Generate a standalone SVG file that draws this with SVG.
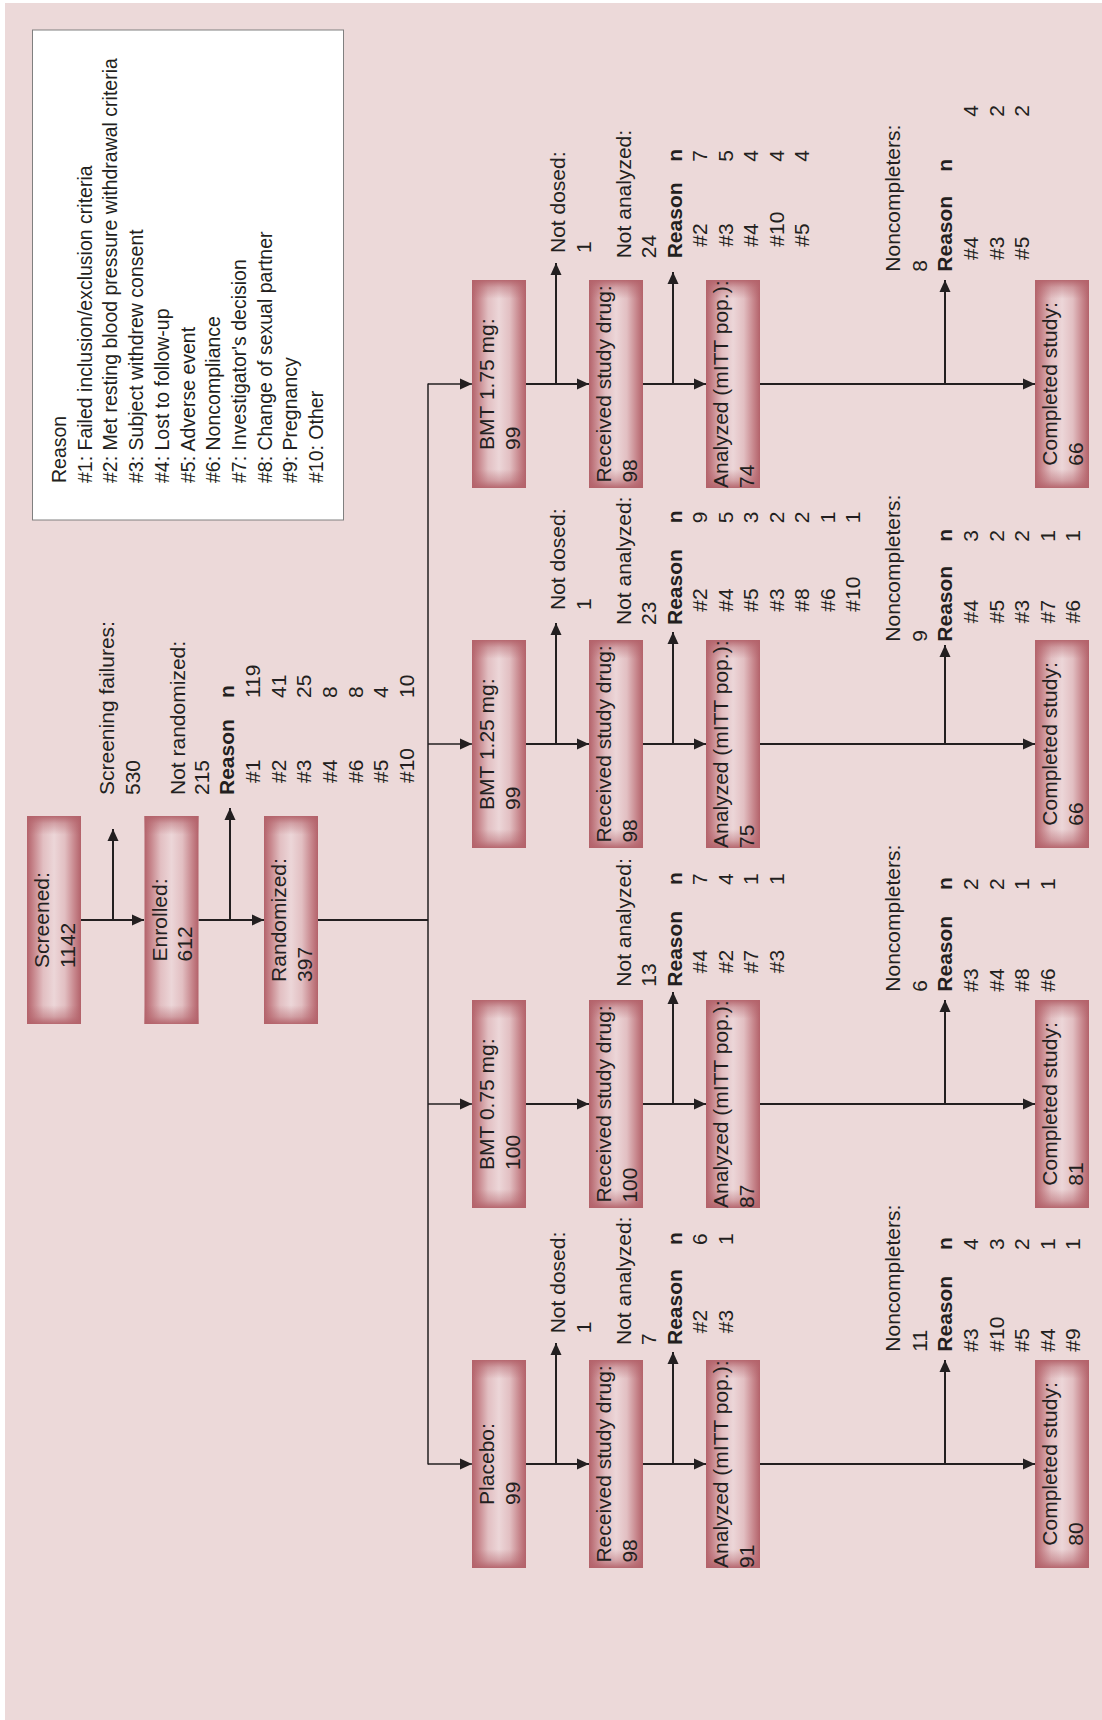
<svg xmlns="http://www.w3.org/2000/svg" width="1102" height="1720" viewBox="0 0 1102 1720">
<defs>
<style>
.t{font-family:"Liberation Sans",Arial,Helvetica,sans-serif;font-size:21px;fill:#231f20}
.b{font-weight:bold}
.lg{font-size:19.5px}
.ln{stroke:#231f20;stroke-width:2;fill:none}
.tr{stroke:#231f20;stroke-width:1.5;fill:none}
.bx{fill:url(#gh)}
.bo{fill:url(#gv)}
</style>
<linearGradient id="gh" x1="0" y1="0" x2="1" y2="0">
<stop offset="0" stop-color="#b3626a"/>
<stop offset="0.12" stop-color="#c7868c"/>
<stop offset="0.3" stop-color="#e2bfc2"/>
<stop offset="0.5" stop-color="#ecd6d8"/>
<stop offset="0.7" stop-color="#e2bfc2"/>
<stop offset="0.88" stop-color="#c7868c"/>
<stop offset="1" stop-color="#b3626a"/>
</linearGradient>
<linearGradient id="gv" x1="0" y1="0" x2="0" y2="1">
<stop offset="0" stop-color="#b3626a" stop-opacity="0.95"/>
<stop offset="0.035" stop-color="#b3626a" stop-opacity="0.45"/>
<stop offset="0.09" stop-color="#b3626a" stop-opacity="0"/>
<stop offset="0.91" stop-color="#b3626a" stop-opacity="0"/>
<stop offset="0.965" stop-color="#b3626a" stop-opacity="0.45"/>
<stop offset="1" stop-color="#b3626a" stop-opacity="0.95"/>
</linearGradient>
<marker id="ah" markerUnits="userSpaceOnUse" markerWidth="12" markerHeight="12" refX="12" refY="6" orient="auto" viewBox="0 0 12 12">
<path d="M0,0.5 L12,6 L0,11.5 z" fill="#231f20"/>
</marker>
</defs>

<rect x="0" y="0" width="1102" height="1720" fill="#ffffff"/>
<rect x="5" y="3" width="1097" height="1717" fill="#ecd9d9"/>

<g id="legend">
<rect x="32.5" y="30" width="311" height="490" fill="#ffffff" stroke="#808080" stroke-width="1"/>
<g class="t lg" transform="rotate(-90)">
<text x="-483" y="66">Reason</text>
<text x="-483" y="91.7">#1: Failed inclusion/exclusion criteria</text>
<text x="-483" y="117.4">#2: Met resting blood pressure withdrawal criteria</text>
<text x="-483" y="143.1">#3: Subject withdrew consent</text>
<text x="-483" y="168.8">#4: Lost to follow-up</text>
<text x="-483" y="194.5">#5: Adverse event</text>
<text x="-483" y="220.2">#6: Noncompliance</text>
<text x="-483" y="245.9">#7: Investigator's decision</text>
<text x="-483" y="271.6">#8: Change of sexual partner</text>
<text x="-483" y="297.3">#9: Pregnancy</text>
<text x="-483" y="323">#10: Other</text>
</g>
</g>

<g id="connectors">
<path class="ln" d="M81,920 H144" marker-end="url(#ah)"/>
<path class="ln" d="M113,920 V829" marker-end="url(#ah)"/>
<path class="ln" d="M198.5,920 H264" marker-end="url(#ah)"/>
<path class="ln" d="M230,920 V808" marker-end="url(#ah)"/>
<path class="ln" d="M318,920 H428"/>
<path class="tr" d="M428,383.5 V1464.5"/>
<path class="tr" d="M428,384 H472" marker-end="url(#ah)"/>
<path class="tr" d="M428,744 H472" marker-end="url(#ah)"/>
<path class="tr" d="M428,1104 H472" marker-end="url(#ah)"/>
<path class="tr" d="M428,1464 H472" marker-end="url(#ah)"/>
<!-- row 1 -->
<path class="ln" d="M526,384 H589" marker-end="url(#ah)"/>
<path class="ln" d="M556,384 V263" marker-end="url(#ah)"/>
<path class="ln" d="M643,384 H706" marker-end="url(#ah)"/>
<path class="ln" d="M673,384 V272" marker-end="url(#ah)"/>
<path class="ln" d="M760,384 H1035" marker-end="url(#ah)"/>
<path class="ln" d="M945,384 V280" marker-end="url(#ah)"/>
<!-- row 2 -->
<path class="ln" d="M526,744 H589" marker-end="url(#ah)"/>
<path class="ln" d="M556,744 V623" marker-end="url(#ah)"/>
<path class="ln" d="M643,744 H706" marker-end="url(#ah)"/>
<path class="ln" d="M673,744 V632" marker-end="url(#ah)"/>
<path class="ln" d="M760,744 H1035" marker-end="url(#ah)"/>
<path class="ln" d="M945,744 V645" marker-end="url(#ah)"/>
<!-- row 3 -->
<path class="ln" d="M526,1104 H589" marker-end="url(#ah)"/>
<path class="ln" d="M643,1104 H706" marker-end="url(#ah)"/>
<path class="ln" d="M673,1104 V992" marker-end="url(#ah)"/>
<path class="ln" d="M760,1104 H1035" marker-end="url(#ah)"/>
<path class="ln" d="M945,1104 V1000" marker-end="url(#ah)"/>
<!-- row 4 -->
<path class="ln" d="M526,1464 H589" marker-end="url(#ah)"/>
<path class="ln" d="M556,1464 V1343" marker-end="url(#ah)"/>
<path class="ln" d="M643,1464 H706" marker-end="url(#ah)"/>
<path class="ln" d="M673,1464 V1352" marker-end="url(#ah)"/>
<path class="ln" d="M760,1464 H1035" marker-end="url(#ah)"/>
<path class="ln" d="M945,1464 V1360" marker-end="url(#ah)"/>
</g>

<g id="screened">
<rect class="bx" x="27" y="816" width="54" height="208"/><rect class="bo" x="27" y="816" width="54" height="208"/>
<g class="t" transform="rotate(-90)"><text x="-967.9" y="49">Screened:</text><text x="-967.9" y="74.5">1142</text></g>
</g>
<g id="enrolled">
<rect class="bx" x="144.5" y="816" width="54" height="208"/><rect class="bo" x="144.5" y="816" width="54" height="208"/>
<g class="t" transform="rotate(-90)"><text x="-961.4" y="166.5">Enrolled:</text><text x="-961.4" y="192">612</text></g>
</g>
<g id="randomized">
<rect class="bx" x="264" y="816" width="54" height="208"/><rect class="bo" x="264" y="816" width="54" height="208"/>
<g class="t" transform="rotate(-90)"><text x="-981.9" y="286">Randomized:</text><text x="-981.9" y="311.5">397</text></g>
</g>

<g id="screening-failures" class="t" transform="rotate(-90)">
<text x="-795" y="114">Screening failures:</text>
<text x="-795" y="140">530</text>
</g>
<g id="not-randomized" class="t" transform="rotate(-90)">
<text x="-795" y="185">Not randomized:</text>
<text x="-795" y="209">215</text>
<text class="b" x="-795" y="234">Reason</text><text class="b" x="-698" y="234">n</text>
<text x="-783" y="260">#1</text><text x="-698" y="260">119</text>
<text x="-783" y="285.5">#2</text><text x="-698" y="285.5">41</text>
<text x="-783" y="311">#3</text><text x="-698" y="311">25</text>
<text x="-783" y="337">#4</text><text x="-698" y="337">8</text>
<text x="-783" y="362.5">#6</text><text x="-698" y="362.5">8</text>
<text x="-783" y="388">#5</text><text x="-698" y="388">4</text>
<text x="-783" y="413.5">#10</text><text x="-698" y="413.5">10</text>
</g>

<!-- Row 1: BMT 1.75 mg -->
<g id="bmt175">
<rect class="bx" x="472" y="280" width="54" height="208"/><rect class="bo" x="472" y="280" width="54" height="208"/>
<g class="t" transform="rotate(-90)"><text x="-449.9" y="494">BMT 1.75 mg:</text><text x="-449.9" y="519.5">99</text></g>
</g>
<g id="received175">
<rect class="bx" x="589" y="280" width="54" height="208"/><rect class="bo" x="589" y="280" width="54" height="208"/>
<g class="t" transform="rotate(-90)"><text x="-482.6" y="611">Received study drug:</text><text x="-482.6" y="636.5">98</text></g>
</g>
<g id="analyzed175">
<rect class="bx" x="706" y="280" width="54" height="208"/><rect class="bo" x="706" y="280" width="54" height="208"/>
<g class="t" transform="rotate(-90)"><text x="-487.9" y="728">Analyzed (mITT pop.):</text><text x="-487.9" y="753.5">74</text></g>
</g>
<g id="completed175">
<rect class="bx" x="1035" y="280" width="54" height="208"/><rect class="bo" x="1035" y="280" width="54" height="208"/>
<g class="t" transform="rotate(-90)"><text x="-465.7" y="1057">Completed study:</text><text x="-465.7" y="1082.5">66</text></g>
</g>
<g id="notdosed175" class="t" transform="rotate(-90)">
<text x="-253" y="565">Not dosed:</text><text x="-253" y="590.5">1</text>
</g>
<g id="notanalyzed175" class="t" transform="rotate(-90)">
<text x="-258.3" y="630.5">Not analyzed:</text><text x="-258.3" y="656">24</text>
<text class="b" x="-258.3" y="681.5">Reason</text><text class="b" x="-161.7" y="681.5">n</text>
<text x="-246.7" y="707">#2</text><text x="-161.7" y="707">7</text>
<text x="-246.7" y="732.5">#3</text><text x="-161.7" y="732.5">5</text>
<text x="-246.7" y="758">#4</text><text x="-161.7" y="758">4</text>
<text x="-246.7" y="783.5">#10</text><text x="-161.7" y="783.5">4</text>
<text x="-246.7" y="809">#5</text><text x="-161.7" y="809">4</text>
</g>
<g id="noncompleters175" class="t" transform="rotate(-90)">
<text x="-271.7" y="900">Noncompleters:</text><text x="-271.7" y="926.5">8</text>
<text class="b" x="-271.7" y="952">Reason</text><text class="b" x="-171.7" y="952">n</text>
<text x="-260" y="978">#4</text><text x="-116.7" y="978">4</text>
<text x="-260" y="1003.5">#3</text><text x="-116.7" y="1003.5">2</text>
<text x="-260" y="1029">#5</text><text x="-116.7" y="1029">2</text>
</g>

<!-- Row 2: BMT 1.25 mg -->
<g id="bmt125">
<rect class="bx" x="472" y="640" width="54" height="208"/><rect class="bo" x="472" y="640" width="54" height="208"/>
<g class="t" transform="rotate(-90)"><text x="-809.9" y="494">BMT 1.25 mg:</text><text x="-809.9" y="519.5">99</text></g>
</g>
<g id="received125">
<rect class="bx" x="589" y="640" width="54" height="208"/><rect class="bo" x="589" y="640" width="54" height="208"/>
<g class="t" transform="rotate(-90)"><text x="-842.6" y="611">Received study drug:</text><text x="-842.6" y="636.5">98</text></g>
</g>
<g id="analyzed125">
<rect class="bx" x="706" y="640" width="54" height="208"/><rect class="bo" x="706" y="640" width="54" height="208"/>
<g class="t" transform="rotate(-90)"><text x="-847.9" y="728">Analyzed (mITT pop.):</text><text x="-847.9" y="753.5">75</text></g>
</g>
<g id="completed125">
<rect class="bx" x="1035" y="640" width="54" height="208"/><rect class="bo" x="1035" y="640" width="54" height="208"/>
<g class="t" transform="rotate(-90)"><text x="-825.7" y="1057">Completed study:</text><text x="-825.7" y="1082.5">66</text></g>
</g>
<g id="notdosed125" class="t" transform="rotate(-90)">
<text x="-610" y="565">Not dosed:</text><text x="-610" y="590.5">1</text>
</g>
<g id="notanalyzed125" class="t" transform="rotate(-90)">
<text x="-625" y="630.5">Not analyzed:</text><text x="-625" y="656">23</text>
<text class="b" x="-625" y="681.5">Reason</text><text class="b" x="-523.3" y="681.5">n</text>
<text x="-611.7" y="707">#2</text><text x="-523.3" y="707">9</text>
<text x="-611.7" y="732.5">#4</text><text x="-523.3" y="732.5">5</text>
<text x="-611.7" y="758">#5</text><text x="-523.3" y="758">3</text>
<text x="-611.7" y="783.5">#3</text><text x="-523.3" y="783.5">2</text>
<text x="-611.7" y="809">#8</text><text x="-523.3" y="809">2</text>
<text x="-611.7" y="834.5">#6</text><text x="-523.3" y="834.5">1</text>
<text x="-611.7" y="860">#10</text><text x="-523.3" y="860">1</text>
</g>
<g id="noncompleters125" class="t" transform="rotate(-90)">
<text x="-641.7" y="900">Noncompleters:</text><text x="-641.7" y="926.5">9</text>
<text class="b" x="-641.7" y="952">Reason</text><text class="b" x="-541.7" y="952">n</text>
<text x="-623.3" y="978">#4</text><text x="-541.7" y="978">3</text>
<text x="-623.3" y="1003.5">#5</text><text x="-541.7" y="1003.5">2</text>
<text x="-623.3" y="1029">#3</text><text x="-541.7" y="1029">2</text>
<text x="-623.3" y="1054.5">#7</text><text x="-541.7" y="1054.5">1</text>
<text x="-623.3" y="1080">#6</text><text x="-541.7" y="1080">1</text>
</g>

<!-- Row 3: BMT 0.75 mg -->
<g id="bmt075">
<rect class="bx" x="472" y="1000" width="54" height="208"/><rect class="bo" x="472" y="1000" width="54" height="208"/>
<g class="t" transform="rotate(-90)"><text x="-1169.9" y="494">BMT 0.75 mg:</text><text x="-1169.9" y="519.5">100</text></g>
</g>
<g id="received075">
<rect class="bx" x="589" y="1000" width="54" height="208"/><rect class="bo" x="589" y="1000" width="54" height="208"/>
<g class="t" transform="rotate(-90)"><text x="-1202.6" y="611">Received study drug:</text><text x="-1202.6" y="636.5">100</text></g>
</g>
<g id="analyzed075">
<rect class="bx" x="706" y="1000" width="54" height="208"/><rect class="bo" x="706" y="1000" width="54" height="208"/>
<g class="t" transform="rotate(-90)"><text x="-1207.9" y="728">Analyzed (mITT pop.):</text><text x="-1207.9" y="753.5">87</text></g>
</g>
<g id="completed075">
<rect class="bx" x="1035" y="1000" width="54" height="208"/><rect class="bo" x="1035" y="1000" width="54" height="208"/>
<g class="t" transform="rotate(-90)"><text x="-1185.7" y="1057">Completed study:</text><text x="-1185.7" y="1082.5">81</text></g>
</g>
<g id="notanalyzed075" class="t" transform="rotate(-90)">
<text x="-986.7" y="630.5">Not analyzed:</text><text x="-986.7" y="656">13</text>
<text class="b" x="-986.7" y="681.5">Reason</text><text class="b" x="-885" y="681.5">n</text>
<text x="-973.3" y="707">#4</text><text x="-885" y="707">7</text>
<text x="-973.3" y="732.5">#2</text><text x="-885" y="732.5">4</text>
<text x="-973.3" y="758">#7</text><text x="-885" y="758">1</text>
<text x="-973.3" y="783.5">#3</text><text x="-885" y="783.5">1</text>
</g>
<g id="noncompleters075" class="t" transform="rotate(-90)">
<text x="-991.7" y="900">Noncompleters:</text><text x="-991.7" y="926.5">6</text>
<text class="b" x="-991.7" y="952">Reason</text><text class="b" x="-890" y="952">n</text>
<text x="-991.7" y="978">#3</text><text x="-890" y="978">2</text>
<text x="-991.7" y="1003.5">#4</text><text x="-890" y="1003.5">2</text>
<text x="-991.7" y="1029">#8</text><text x="-890" y="1029">1</text>
<text x="-991.7" y="1054.5">#6</text><text x="-890" y="1054.5">1</text>
</g>

<!-- Row 4: Placebo -->
<g id="placebo">
<rect class="bx" x="472" y="1360" width="54" height="208"/><rect class="bo" x="472" y="1360" width="54" height="208"/>
<g class="t" transform="rotate(-90)"><text x="-1504.9" y="494">Placebo:</text><text x="-1504.9" y="519.5">99</text></g>
</g>
<g id="receivedplacebo">
<rect class="bx" x="589" y="1360" width="54" height="208"/><rect class="bo" x="589" y="1360" width="54" height="208"/>
<g class="t" transform="rotate(-90)"><text x="-1562.6" y="611">Received study drug:</text><text x="-1562.6" y="636.5">98</text></g>
</g>
<g id="analyzedplacebo">
<rect class="bx" x="706" y="1360" width="54" height="208"/><rect class="bo" x="706" y="1360" width="54" height="208"/>
<g class="t" transform="rotate(-90)"><text x="-1567.9" y="728">Analyzed (mITT pop.):</text><text x="-1567.9" y="753.5">91</text></g>
</g>
<g id="completedplacebo">
<rect class="bx" x="1035" y="1360" width="54" height="208"/><rect class="bo" x="1035" y="1360" width="54" height="208"/>
<g class="t" transform="rotate(-90)"><text x="-1545.7" y="1057">Completed study:</text><text x="-1545.7" y="1082.5">80</text></g>
</g>
<g id="notdosedplacebo" class="t" transform="rotate(-90)">
<text x="-1333.3" y="565">Not dosed:</text><text x="-1333.3" y="590.5">1</text>
</g>
<g id="notanalyzedplacebo" class="t" transform="rotate(-90)">
<text x="-1345" y="630.5">Not analyzed:</text><text x="-1345" y="656">7</text>
<text class="b" x="-1345" y="681.5">Reason</text><text class="b" x="-1245" y="681.5">n</text>
<text x="-1333.3" y="707">#2</text><text x="-1245" y="707">6</text>
<text x="-1333.3" y="732.5">#3</text><text x="-1245" y="732.5">1</text>
</g>
<g id="noncompletersplacebo" class="t" transform="rotate(-90)">
<text x="-1351.7" y="900">Noncompleters:</text><text x="-1351.7" y="926.5">11</text>
<text class="b" x="-1351.7" y="952">Reason</text><text class="b" x="-1250" y="952">n</text>
<text x="-1351.7" y="978">#3</text><text x="-1250" y="978">4</text>
<text x="-1351.7" y="1003.5">#10</text><text x="-1250" y="1003.5">3</text>
<text x="-1351.7" y="1029">#5</text><text x="-1250" y="1029">2</text>
<text x="-1351.7" y="1054.5">#4</text><text x="-1250" y="1054.5">1</text>
<text x="-1351.7" y="1080">#9</text><text x="-1250" y="1080">1</text>
</g>
</svg>
